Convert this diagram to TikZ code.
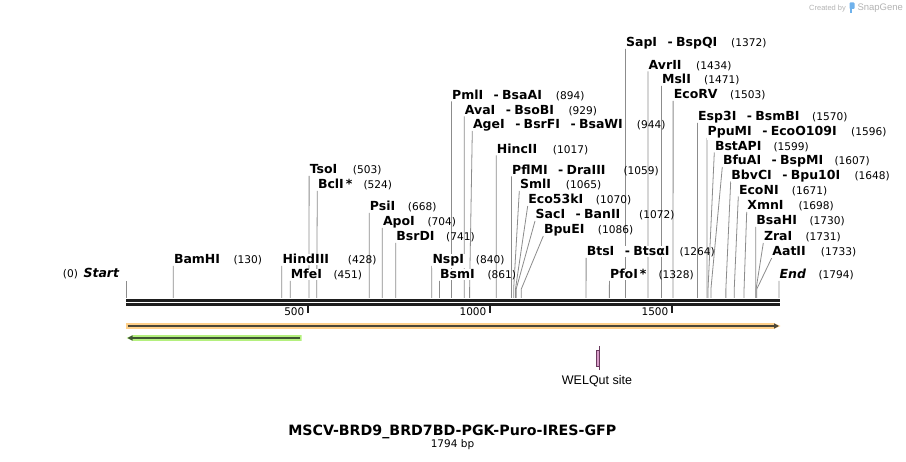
\documentclass[tikz,border=0pt]{standalone}
\usepackage{fontspec}
\setmainfont{DejaVu Sans}
\newfontfamily\libsans{Liberation Sans}
\usetikzlibrary{arrows.meta}
\pgfdeclarelayer{back}
\pgfdeclarelayer{bg}
\pgfsetlayers{back,bg,main}
\definecolor{siteg}{HTML}{8C8C8C}
\definecolor{mainln}{HTML}{1E1E1E}
\definecolor{orgband}{HTML}{FFD08A}
\definecolor{orgline}{HTML}{4A4638}
\definecolor{grnband}{HTML}{B4F07E}
\definecolor{grnline}{HTML}{3E5532}
\definecolor{welqfill}{HTML}{D89CC8}
\definecolor{welqdraw}{HTML}{6A3A5E}
\definecolor{sgray}{HTML}{B4B4B4}
\definecolor{sblue}{HTML}{6FB2EC}
\tikzset{
  nm/.style={font=\fontsize{12.5}{14}\selectfont\bfseries, inner xsep=0.5pt, inner ysep=1pt, fill=white, anchor=base west},
  numst/.style={font=\fontsize{10.6}{13}\selectfont, inner sep=0pt, anchor=base west},
  siteline/.style={draw=siteg, line width=0.8pt},
  ticklbl/.style={font=\fontsize{10.5}{12}\selectfont, inner sep=0pt, anchor=base east},
}
\newcommand\sepd{\hspace{10.5pt}-\hspace{3.3pt}}
% id, bp, label x, baseline, name, number x, number
\newcommand\rsite[7]{%
  \coordinate (s#1) at ({126+0.364*#2},298);
  \node[nm] (l#1) at (#3,#4) {#5};
  \node[numst] (n#1) at (#6,#4) {#7};
  \begin{pgfonlayer}{bg}
    \draw[siteline] (s#1) -- ++(0,-9) -- ([yshift=-2pt]l#1.base west);
  \end{pgfonlayer}
}
\begin{document}
\begin{tikzpicture}[x=1pt,y=-1pt]
\useasboundingbox (0,0) rectangle (906,462);
\begin{pgfonlayer}{back}
\fill[white] (0,0) rectangle (906,462);
\end{pgfonlayer}

% main sequence line
\draw[mainln, line width=2.6pt] (126,300.6) -- (779.5,300.6);
\draw[mainln, line width=2.4pt] (126,304.6) -- (779.5,304.6);

% ticks
\foreach \b/\t in {500/500,1000/1000,1500/1500}{
  \draw[mainln, line width=1.8pt] ({126+0.364*\b},306) -- ({126+0.364*\b},313);
  \node[ticklbl] at ({126+0.364*\b-3.5},316) {\t};
}

% start
\coordinate (s0) at (126,298);
\coordinate (t0) at (126,281);
\begin{pgfonlayer}{bg}\draw[siteline] (s0) -- (t0);\end{pgfonlayer}
\node[nm, anchor=base east, font=\fontsize{12.5}{14}\selectfont\bfseries\itshape] (l0) at (119.8,278) {Start};
\node[numst] (n0) at (62.7,278) {(0)};

% left
\rsite{bam}{130}{173.3}{264}{BamHI}{233.3}{(130)}
\rsite{hind}{428}{281.8}{264}{HindIII}{347.7}{(428)}
\rsite{mfe}{451}{290.2}{279}{MfeI}{333.3}{(451)}
\rsite{tso}{503}{309.1}{174}{TsoI}{352.7}{(503)}
\rsite{bcl}{524}{317.3}{189}{BclI\hspace{2pt}*}{363.3}{(524)}
\rsite{psi}{668}{369.2}{211}{PsiI}{407.7}{(668)}
\rsite{apo}{704}{382.3}{226}{ApoI}{427.3}{(704)}
\rsite{bsrd}{741}{395.7}{241}{BsrDI}{446}{(741)}
\rsite{nsp}{840}{431.8}{264}{NspI}{475.7}{(840)}
\rsite{bsm}{861}{439.4}{279}{BsmI}{487.3}{(861)}

% middle
\rsite{pml}{894}{451.4}{99.5}{PmlI\sepd BsaAI}{555.7}{(894)}
\rsite{ava}{929}{464.2}{114.5}{AvaI\sepd BsoBI}{568.3}{(929)}
\rsite{age}{944}{472.3}{129}{AgeI\sepd BsrFI\sepd BsaWI}{636.7}{(944)}
\rsite{hinc}{1017}{496.2}{153.3}{HincII}{552.7}{(1017)}
\rsite{pflm}{1059}{511.5}{174.5}{PflMI\sepd DraIII}{623.3}{(1059)}
\rsite{sml}{1065}{519.3}{189}{SmlI}{565.7}{(1065)}
\rsite{ecoft}{1070}{527.7}{204}{Eco53kI}{595.7}{(1070)}
\rsite{sac}{1072}{535}{219}{SacI\sepd BanII}{639}{(1072)}
\rsite{bpue}{1086}{543.3}{234}{BpuEI}{597.7}{(1086)}
\rsite{bts}{1264}{586.1}{256}{BtsI\sepd BtsαI}{679.3}{(1264)}
\rsite{pfo}{1328}{609.4}{279}{PfoI\hspace{2pt}*}{658.3}{(1328)}

% right
\rsite{sap}{1372}{625.4}{47}{SapI\sepd BspQI}{731}{(1372)}
\rsite{avr}{1434}{648}{69.5}{AvrII}{696}{(1434)}
\rsite{msl}{1471}{661.4}{84}{MslI}{704}{(1471)}
\rsite{ecorv}{1503}{673.1}{99}{EcoRV}{730}{(1503)}
\rsite{esp}{1570}{697.5}{121}{Esp3I\sepd BsmBI}{812}{(1570)}
\rsite{ppu}{1596}{707}{136}{PpuMI\sepd EcoO109I}{851}{(1596)}
\rsite{bstap}{1599}{714.3}{150.5}{BstAPI}{773.3}{(1599)}
\rsite{bfua}{1607}{722.3}{165}{BfuAI\sepd BspMI}{834.3}{(1607)}
\rsite{bbvc}{1648}{730.7}{179.5}{BbvCI\sepd Bpu10I}{854.3}{(1648)}
\rsite{econ}{1671}{738.3}{194.5}{EcoNI}{791.7}{(1671)}
\rsite{xmn}{1698}{746.7}{210}{XmnI}{798.3}{(1698)}
\rsite{bsah}{1730}{755.7}{225}{BsaHI}{809.3}{(1730)}
\rsite{zra}{1731}{763.3}{241}{ZraI}{805.3}{(1731)}
\rsite{aat}{1733}{771.7}{256}{AatII}{820.7}{(1733)}
\rsite{end}{1794}{779}{279}{\itshape End}{818.3}{(1794)}

% features
\fill[orgband] (126,323.2) -- (774,323.2) -- (780.5,326) -- (774,328.8) -- (126,328.8) -- cycle;
\draw[orgline, line width=1.9pt, -{Triangle[length=5pt,width=5pt]}] (127.5,326) -- (779,326);
\fill[grnband] (301.5,335.2) -- (133,335.2) -- (126.5,338) -- (133,340.8) -- (301.5,340.8) -- cycle;
\draw[grnline, line width=1.9pt, -{Triangle[length=5pt,width=5pt]}] (300,338) -- (127.5,338);

% WELQut site
\node[draw=welqdraw, fill=welqfill, line width=0.5pt, minimum width=3pt, minimum height=16pt, inner sep=0pt] (welq) at (598,358.5) {};
\coordinate (wt) at (599.3,346);
\coordinate (wb) at (599.3,370);
\draw[welqdraw, line width=0.6pt] (wt) -- (wb);
\node[font=\libsans\fontsize{12.5}{14}\selectfont, inner sep=0pt, anchor=base] (wlab) at (597,384.5) {WELQut site};

% title
\node[font=\fontsize{14.2}{16}\selectfont\bfseries, inner sep=0pt, anchor=base] (title) at (452.3,436) {MSCV-BRD9\_BRD7BD-PGK-Puro-IRES-GFP};
\node[font=\fontsize{10.5}{12}\selectfont, inner sep=0pt, anchor=base] (bp) at (452.5,448) {1794 bp};

% credit
\node[font=\libsans\fontsize{7.5}{9}\selectfont, text=sgray, inner sep=0pt, anchor=base west] (cr) at (809,10.5) {Created by};
\fill[sblue, rounded corners=0.8pt] (849.5,2.5) rectangle (854.5,9);
\fill[sblue] (849.5,8) rectangle (851.5,13);
\node[font=\libsans\fontsize{9.5}{11}\selectfont, text=sgray, inner sep=0pt, anchor=base west] (sg) at (857.3,11) {SnapGene};
\end{tikzpicture}
\end{document}
